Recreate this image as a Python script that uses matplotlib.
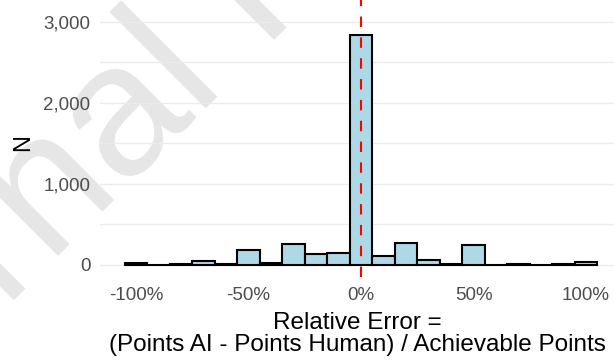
import numpy as np
from matplotlib import pyplot as plt
from matplotlib.ticker import FuncFormatter, MultipleLocator
from matplotlib.textpath import TextPath
from matplotlib.font_manager import FontProperties
from matplotlib.patches import PathPatch
from matplotlib.transforms import Affine2D, IdentityTransform

# bin centres (relative error) and counts
bin_centers = [-1.0, -0.9, -0.8, -0.7, -0.6, -0.5, -0.4, -0.3, -0.2, -0.1, 0.0,
               0.1, 0.2, 0.3, 0.4, 0.5, 0.6, 0.7, 0.8, 0.9, 1.0]
counts = [25, 2, 10, 40, 5, 180, 25, 250, 128, 148, 2830,
          111, 264, 58, 14, 243, 0, 12, 0, 3, 30]
x_ticks = [-1.0, -0.5, 0.0, 0.5, 1.0]
y_ticks = [0, 1000, 2000, 3000]

plt.rcParams['font.family'] = ['Liberation Sans', 'DejaVu Sans']

fig = plt.figure(figsize=(6.14, 3.63), dpi=100)
ax = fig.add_axes([100 / 614, 86 / 363, 514 / 614, 277 / 363])
ax.patch.set_facecolor('none')

# watermark behind the chart, built as a path so the "l" lands where it is in the original
fp = FontProperties(family='Liberation Sans')
em = 188
wm_path = TextPath((0, 0), 'Journal Pre-proof', size=em, prop=fp)
l_ext = TextPath((0, 0), 'l', size=em, prop=fp).get_extents()
c = TextPath((0, 0), 'Journal', size=em, prop=fp).get_extents().x1 - (l_ext.x1 - l_ext.x0) / 2
tr = Affine2D().translate(-c, 0).rotate_deg(45).translate(211.5, 260.5)
fig.add_artist(PathPatch(tr.transform_path(wm_path), facecolor='#e6e6e6',
                         edgecolor='none', transform=IdentityTransform(), zorder=-1))

ax.bar(bin_centers, counts, width=0.1, color='#ADD8E6', edgecolor='black',
       linewidth=1.5, zorder=2)
ax.axvline(0, color='red', linestyle=(0, (5, 5)), linewidth=1.5, zorder=3)

ax.set_xlim(-1.16, 1.124)
ax.set_ylim(-152, 3268)
ax.set_xticks(x_ticks)
ax.xaxis.set_major_formatter(FuncFormatter(lambda v, p: '{:.0f}%'.format(v * 100)))
ax.set_yticks(y_ticks)
ax.yaxis.set_minor_locator(MultipleLocator(500))
ax.yaxis.set_major_formatter(FuncFormatter(lambda v, p: '{:,.0f}'.format(v)))

ax.grid(axis='y', which='both', color='#ebebeb', linewidth=1.0, zorder=0)
ax.set_axisbelow(True)
for s in ax.spines.values():
    s.set_visible(False)
ax.tick_params(axis='both', which='both', length=0, labelsize=13.5, labelcolor='#4D4D4D')
ax.tick_params(axis='x', pad=7)
ax.tick_params(axis='y', pad=7)

ax.set_xlabel('Relative Error =\n(Points AI - Points Human) / Achievable Points',
              fontsize=17.5, linespacing=0.98, labelpad=6)
fig.text(23 / 614, 220 / 363, 'N', rotation=90, fontsize=17, ha='center', va='center')

fig.savefig('out.png', dpi=100)
